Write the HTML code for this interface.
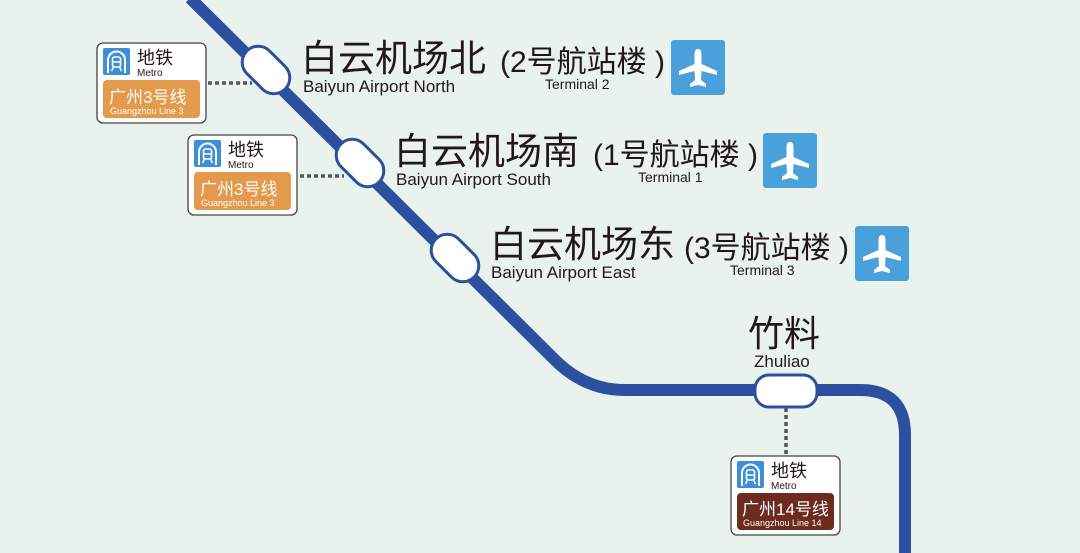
<!DOCTYPE html>
<html><head><meta charset="utf-8"><style>
html,body{margin:0;padding:0;background:#e9f2ec;}
svg{display:block}
text{font-family:"Liberation Sans","Noto Sans CJK SC",sans-serif;fill:#231815}
</style></head><body>
<svg width="1080" height="553" viewBox="0 0 1080 553" xmlns="http://www.w3.org/2000/svg">
<defs>
<g id="plane">
<rect x="0" y="0" width="54" height="55" rx="3" fill="#4aa0da"/>
<path d="M27 9 C30 9 30.5 12 30.5 15 L30.5 24 L46 31 L46 35 L30.5 31 L30 40 L35 44 L35 47 L27 45 L19 47 L19 44 L24 40 L23.5 31 L8 35 L8 31 L23.5 24 L23.5 15 C23.5 12 24 9 27 9Z" fill="#fff"/>
</g>
<g id="metroicon">
<rect x="0" y="0" width="27" height="27" rx="2" fill="#3d8fd6"/>
<path d="M5 25 L5 12 A8.5 8.5 0 0 1 22 12 L22 25" fill="none" stroke="#fff" stroke-width="2"/>
<rect x="9.5" y="9" width="8" height="10" rx="2" fill="none" stroke="#fff" stroke-width="1.6"/>
<path d="M9.5 14 H17.5 M10.5 19 L8.5 23 M16.5 19 L18.5 23" stroke="#fff" stroke-width="1.5"/>
</g>
</defs>

<path d="M190 -2 L555 360 Q585 390 625 390 L860 390 Q905 390 905 435 L905 560" fill="none" stroke="#2c4f9f" stroke-width="12"/>

<line x1="208" y1="83" x2="252" y2="83" stroke="#555" stroke-width="3.5" stroke-dasharray="4,3"/>
<line x1="300" y1="176" x2="344" y2="176" stroke="#555" stroke-width="3.5" stroke-dasharray="4,3"/>
<line x1="786" y1="408" x2="786" y2="455" stroke="#555" stroke-width="3.5" stroke-dasharray="4,3"/>

<rect x="-27" y="-16" width="54" height="32" rx="16" transform="translate(266,70) rotate(45)" fill="#fff" stroke="#2c4f9f" stroke-width="3"/>
<rect x="-27" y="-16" width="54" height="32" rx="16" transform="translate(360,163) rotate(45)" fill="#fff" stroke="#2c4f9f" stroke-width="3"/>
<rect x="-27" y="-16" width="54" height="32" rx="16" transform="translate(455,258) rotate(45)" fill="#fff" stroke="#2c4f9f" stroke-width="3"/>
<rect x="755" y="375" width="62" height="32" rx="14" fill="#fff" stroke="#2c4f9f" stroke-width="3"/>

<g transform="translate(97,43)">
<rect x="0" y="0" width="109" height="80" rx="6" fill="#fff" stroke="#444" stroke-width="1.3"/>
<use href="#metroicon" x="6" y="5"/>
<text x="40" y="21" font-size="18">地铁</text>
<text x="40" y="33" font-size="10">Metro</text>
<rect x="6" y="37" width="97" height="38" rx="4" fill="#e39a4c"/>
<text x="12" y="60" font-size="17" style="fill:#fff">广州3号线</text>
<text x="13" y="71" font-size="9" style="fill:#fff">Guangzhou Line 3</text>
</g>
<g transform="translate(188,135)">
<rect x="0" y="0" width="109" height="80" rx="6" fill="#fff" stroke="#444" stroke-width="1.3"/>
<use href="#metroicon" x="6" y="5"/>
<text x="40" y="21" font-size="18">地铁</text>
<text x="40" y="33" font-size="10">Metro</text>
<rect x="6" y="37" width="97" height="38" rx="4" fill="#e39a4c"/>
<text x="12" y="60" font-size="17" style="fill:#fff">广州3号线</text>
<text x="13" y="71" font-size="9" style="fill:#fff">Guangzhou Line 3</text>
</g>
<g transform="translate(731,456)">
<rect x="0" y="0" width="109" height="79" rx="6" fill="#fff" stroke="#444" stroke-width="1.3"/>
<use href="#metroicon" x="6" y="5"/>
<text x="40" y="21" font-size="18">地铁</text>
<text x="40" y="33" font-size="10">Metro</text>
<rect x="6" y="37" width="97" height="37" rx="4" fill="#6d2a1e"/>
<text x="11" y="59" font-size="17" style="fill:#fff">广州14号线</text>
<text x="12" y="70" font-size="9" style="fill:#fff">Guangzhou Line 14</text>
</g>

<text x="301" y="71" font-size="37">白云机场北</text>
<text x="500" y="72" font-size="30">(2号航站楼 )</text>
<text x="303" y="92" font-size="17">Baiyun Airport North</text>
<text x="545" y="89" font-size="14">Terminal 2</text>
<use href="#plane" x="671" y="40"/>

<text x="394" y="164" font-size="37">白云机场南</text>
<text x="593" y="165" font-size="30">(1号航站楼 )</text>
<text x="396" y="185" font-size="17">Baiyun Airport South</text>
<text x="638" y="182" font-size="14">Terminal 1</text>
<use href="#plane" x="763" y="133"/>

<text x="490" y="257" font-size="37">白云机场东</text>
<text x="684" y="258" font-size="30">(3号航站楼 )</text>
<text x="491" y="278" font-size="17">Baiyun Airport East</text>
<text x="730" y="275" font-size="14">Terminal 3</text>
<use href="#plane" x="855" y="226"/>

<text x="748" y="346" font-size="36">竹料</text>
<text x="754" y="367" font-size="17">Zhuliao</text>
</svg>
</body></html>
